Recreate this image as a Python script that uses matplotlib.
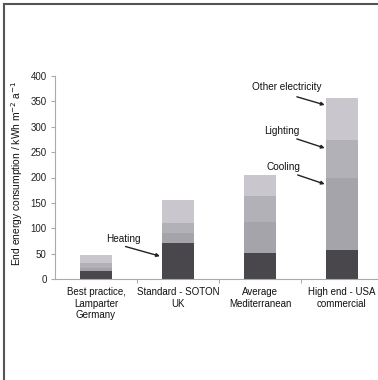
import matplotlib as mpl
import matplotlib.pyplot as plt
from matplotlib.lines import Line2D

mpl.rcParams['font.family'] = ['Liberation Sans', 'DejaVu Sans']

categories = ['Best practice,\nLamparter\nGermany', 'Standard - SOTON\nUK',
              'Average\nMediterranean', 'High end - USA\ncommercial']
heating = [16, 70, 52, 57]
cooling = [6, 20, 60, 143]
lighting = [10, 20, 52, 74]
other = [15, 45, 40, 83]

layers = [heating, cooling, lighting, other]
colors = ['#49464c', '#a6a4ab', '#b3b1b8', '#c9c7cd']

W, H = 378, 380
fig = plt.figure(figsize=(W / 100, H / 100), dpi=100)
ax = fig.add_axes([55 / W, 1 - 279 / H, (W - 55) / W, 203 / H])

x = list(range(len(categories)))
# cumulative tops of each layer; drawn from zero, tallest first, so no seams show
tops = []
running = [0] * len(categories)
for vals in layers:
    running = [r + v for r, v in zip(running, vals)]
    tops.append(running)
for top, c in reversed(list(zip(tops, colors))):
    ax.bar(x, top, width=0.4, color=c, edgecolor='none', linewidth=0)

ax.set_ylim(0, 400)
ax.set_xlim(-0.5, 3.44)
ax.set_yticks(range(0, 401, 50))
ax.set_xticks(x, categories)
ax.set_xticks([0.5, 1.5, 2.5], minor=True)
ax.tick_params(axis='x', which='major', length=0, pad=6, labelsize=7, labelcolor='#111111')
ax.tick_params(axis='x', which='minor', length=3, color='#999999', direction='out')
ax.tick_params(axis='y', length=3, color='#aaaaaa', labelsize=7, labelcolor='#222222', pad=3)
for lab in ax.get_xticklabels():
    lab.set_linespacing(1.15)

for s in ['top', 'right']:
    ax.spines[s].set_visible(False)
ax.spines['left'].set_color('#aaaaaa')
ax.spines['bottom'].set_color('#aaaaaa')
ax.spines['left'].set_linewidth(0.8)
ax.spines['bottom'].set_linewidth(0.8)

fig.text(17 / W, 1 - 173 / H, 'End energy consumption / kWh m$^{-2}$ a$^{-1}$',
         rotation=90, ha='center', va='center', fontsize=7.4, color='#111111')

# annotations: label, text position, arrow start, arrow tip
notes = [
    ('Heating', (0.33, 79), (0.36, 64), (0.78, 45)),
    ('Other electricity', (2.33, 378), (2.45, 359), (2.79, 343)),
    ('Lighting', (2.27, 292), (2.45, 276), (2.79, 258)),
    ('Cooling', (2.29, 221), (2.46, 205), (2.79, 187)),
]
for label, tpos, start, tip in notes:
    ax.text(tpos[0], tpos[1], label, ha='center', va='center', fontsize=7.2, color='#111111')
    ax.annotate('', xy=tip, xytext=start,
                arrowprops=dict(arrowstyle='-|>', lw=1.0, color='#222222', mutation_scale=5,
                                shrinkA=0, shrinkB=0))

# frame of the scanned figure
fig.add_artist(Line2D([4 / W, 4 / W], [0, 1 - 4 / H], color='#555555', lw=1.5))
fig.add_artist(Line2D([4 / W, 1], [1 - 4 / H, 1 - 4 / H], color='#555555', lw=1.5))

fig.savefig('out.png', dpi=100)
